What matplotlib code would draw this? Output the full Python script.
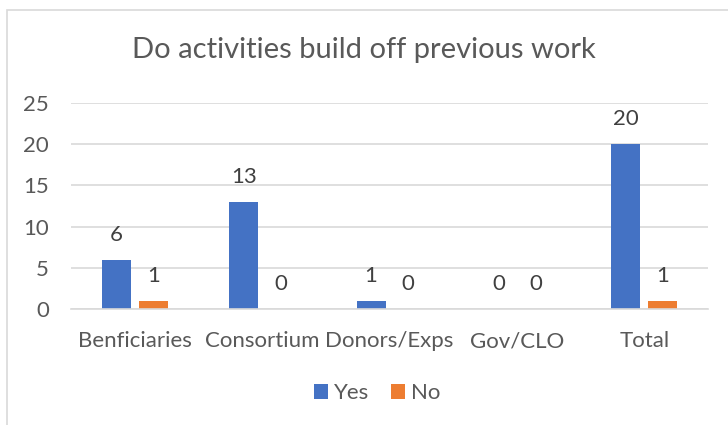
import numpy as np
import matplotlib.pyplot as plt
from matplotlib.patches import Rectangle

# survey answers per group
categories = ["Benficiaries", "Consortium", "Donors/Exps", "Gov/CLO", "Total"]
yes_counts = [6, 13, 1, 0, 20]
no_counts = [1, 0, 0, 0, 1]
yticks = [0, 5, 10, 15, 20, 25]

plt.rcParams['font.family'] = ['Lato', 'DejaVu Sans']
txt = "#595959"
grid = "#d9d9d9"

fig = plt.figure(figsize=(7.28, 4.25), dpi=100)
ax = fig.add_axes([71/728, 1 - 309/425, 637/728, 206/425])

x = np.arange(len(categories))
w = 0.228
off = 0.145
b1 = ax.bar(x - off, yes_counts, w, color="#4472c4", label="Yes")
b2 = ax.bar(x + off, no_counts, w, color="#ed7d31", label="No")

for bars, vals in ((b1, yes_counts), (b2, no_counts)):
    for r, v in zip(bars, vals):
        ax.annotate(str(v), (r.get_x() + r.get_width() / 2, v),
                    xytext=(0, 18), textcoords="offset points",
                    ha="center", va="center", fontsize=16, color="#404040")

ax.set_xlim(-0.5, len(categories) - 0.5)
ax.set_ylim(0, 25)
ax.set_yticks(yticks)
ax.set_xticks(x)
ax.set_xticklabels(categories)
ax.yaxis.grid(True, color=grid, linewidth=1.2)
ax.set_axisbelow(True)
for s in ("top", "right", "left"):
    ax.spines[s].set_visible(False)
ax.spines["bottom"].set_color(grid)
ax.spines["bottom"].set_linewidth(1.2)
ax.tick_params(axis="both", length=0, labelsize=16, colors=txt)
ax.tick_params(axis="y", pad=16)
ax.tick_params(axis="x", pad=16)

fig.text(0.5, 1 - 50/425, "Do activities build off previous work",
         ha="center", va="center", fontsize=21, color=txt)

fig.legend(handles=[b1, b2], loc="center", bbox_to_anchor=(377/728, 1 - 393/425),
           ncol=2, frameon=False, fontsize=16, labelcolor=txt,
           handlelength=0.65, handleheight=0.65, handletextpad=0.25, columnspacing=1.0)

# chart frame
fig.patches.append(Rectangle((7/728, -0.1), 1.2, 1 - 10/425 + 0.1, transform=fig.transFigure,
                             fill=False, edgecolor=grid, linewidth=1.2))

fig.savefig("out.png", dpi=100)
